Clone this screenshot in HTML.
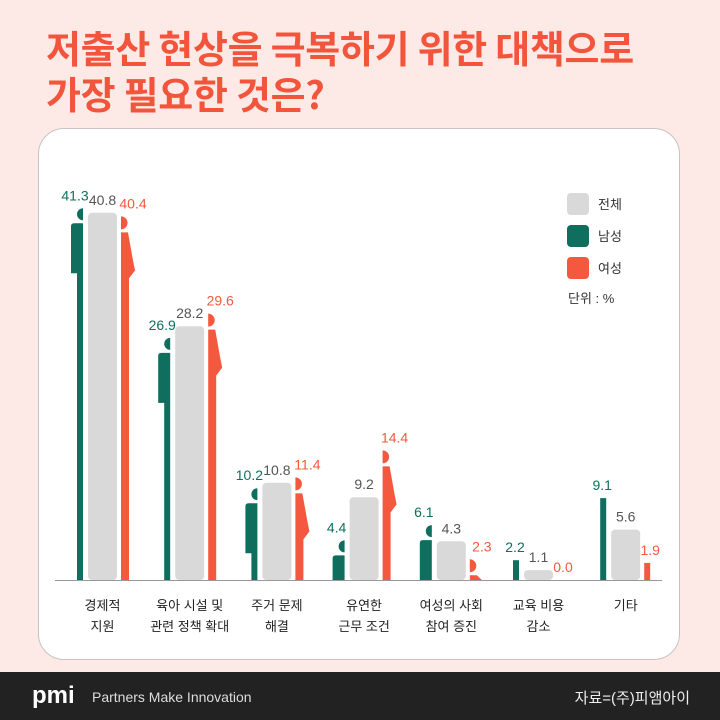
<!DOCTYPE html>
<html><head><meta charset="utf-8">
<style>
body{margin:0;width:720px;height:720px;background:#fdeae7;font-family:"Liberation Sans","Noto Sans CJK KR",sans-serif;overflow:hidden;position:relative}
.title{position:absolute;left:46px;top:24px;color:#f2553b;font-weight:700;font-size:38px;line-height:46px;letter-spacing:-0.3px;font-family:"Noto Sans CJK KR",sans-serif;white-space:nowrap}
.card{position:absolute;left:38px;top:128px;width:640px;height:530px;background:#fff;border:1.5px solid #c9c2c0;border-radius:26px}
.footer{position:absolute;left:0;top:672px;width:720px;height:48px;background:#222}
svg{position:absolute;left:0;top:0}
</style></head><body>
<div class="title">저출산 현상을 극복하기 위한 대책으로<br>가장 필요한 것은?</div>
<div class="card"></div>
<div class="footer">
<span style="position:absolute;left:32px;top:10px;color:#fff;font-weight:700;font-size:24px;font-family:'Liberation Sans',sans-serif">pmi</span>
<span style="position:absolute;left:92px;top:17px;color:#ddd;font-size:14px">Partners Make Innovation</span>
<span style="position:absolute;right:30px;top:15px;color:#eee;font-size:15px">자료=(주)피앰아이</span>
</div>
<svg id="chart" width="720" height="720" xmlns="http://www.w3.org/2000/svg"></svg>
<script>
const categories=[["경제적","지원"],["육아 시설 및","관련 정책 확대"],["주거 문제","해결"],["유연한","근무 조건"],["여성의 사회","참여 증진"],["교육 비용","감소"],["기타"]];
const totalValues=[40.8,28.2,10.8,9.2,4.3,1.1,5.6];
const maleValues=[41.3,26.9,10.2,4.4,6.1,2.2,9.1];
const femaleValues=[40.4,29.6,11.4,14.4,2.3,0.0,1.9];
const figureShape=[true,true,true,true,true,false,false];
const G='#0f6e5e',O='#f4583e',GR='#d9d9d9';
const svg=document.getElementById('chart');
const NS='http://www.w3.org/2000/svg';
const base=580,scale=9.0;
const y=v=>base-v*scale;
const cx=i=>102.5+i*87.2;
function el(tag,attrs,name){const e=document.createElementNS(NS,tag);for(const k in attrs)e.setAttribute(k,attrs[k]);


svg.appendChild(e);return e;}
function txt(x,yy,s,color,size,name,anchor){const t=el('text',{x:x,y:yy,fill:color,'font-size':size,'text-anchor':anchor||'middle','font-family':'Liberation Sans, Noto Sans CJK KR, sans-serif'},name);t.textContent=s;return t;}
el('line',{x1:55,x2:662,y1:base+0.5,y2:base+0.5,stroke:'#999','stroke-width':1},'x-axis');
categories.forEach((c,i)=>{
  const x=cx(i),gl=x-14.5,gr=x+14.5;
  const tt=y(totalValues[i]);
  el('rect',{x:gl,y:tt,width:29,height:base-tt,rx:4,fill:GR},'bar-total-'+i);
  txt(x,tt-8,totalValues[i].toFixed(1),'#555',14,'label-total-'+i);
  const mt=y(maleValues[i]),xr=gl-5;
  if(figureShape[i]){
    el('path',{d:`M${xr},${mt} A6,6 0 0 0 ${xr},${mt+12} Z`,fill:G},'male-head-'+i);
    const bt=mt+15,tb=Math.min(bt+50,base);
    el('path',{d:`M${xr},${bt} L${xr-9},${bt} Q${xr-12},${bt} ${xr-12},${bt+3} L${xr-12},${tb} L${xr-6},${tb} L${xr-6},${base} L${xr},${base} Z`,fill:G},'bar-male-'+i);
    txt(xr-8,mt-8,maleValues[i].toFixed(1),G,14,'label-male-'+i);
  } else {
    el('rect',{x:xr-6,y:mt,width:6,height:base-mt,fill:G},'bar-male-'+i);
    txt(xr-4,mt-8,maleValues[i].toFixed(1),G,14,'label-male-'+i);
  }
  const ft=y(femaleValues[i]),xl=gr+4;
  if(figureShape[i]){
    el('path',{d:`M${xl},${ft} A6.5,6.5 0 0 1 ${xl},${ft+13} Z`,fill:O},'female-head-'+i);
    const bt=ft+16,cl=v=>Math.min(v,base);
    el('path',{d:`M${xl},${bt} L${xl+7},${bt} L${xl+12},${cl(bt+28)} L${xl+14},${cl(bt+38)} L${xl+8},${cl(bt+46)} L${xl+8},${base} L${xl},${base} Z`,fill:O},'bar-female-'+i);
    txt(xl+12,ft-8,femaleValues[i].toFixed(1),O,14,'label-female-'+i);
  } else {
    el('rect',{x:xl,y:ft,width:6,height:base-ft,fill:O},'bar-female-'+i);
    txt(xl+6,ft-8,femaleValues[i].toFixed(1),O,14,'label-female-'+i);
  }
  c.forEach((line,j)=>txt(x,610+j*21,line,'#222',13,'category-label-'+i));
});
[['전체',GR],['남성',G],['여성',O]].forEach((l,k)=>{
  el('rect',{x:567,y:193+k*32,width:22,height:22,rx:4,fill:l[1]},'legend-swatch-'+k);
  txt(598,209+k*32,l[0],'#333',13,'legend-label-'+k,'start');
});
txt(568,303,'단위 : %','#333',13,'unit-note','start');
</script>
</body></html>
